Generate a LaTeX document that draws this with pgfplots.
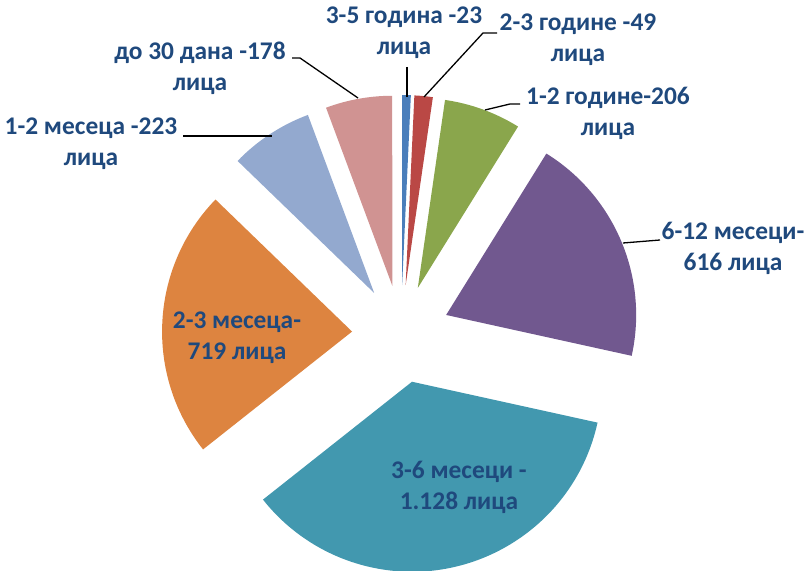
\documentclass[border=0pt]{standalone}
\usepackage{pgfplots}
\pgfplotsset{compat=1.18}
\usepackage{fontspec}
\setmainfont{Carlito}
\definecolor{sA}{HTML}{4A7EBB}
\definecolor{sB}{HTML}{BA4845}
\definecolor{sC}{HTML}{8AA64C}
\definecolor{sD}{HTML}{71588F}
\definecolor{sE}{HTML}{4298AF}
\definecolor{sF}{HTML}{DD8440}
\definecolor{sG}{HTML}{93A9CF}
\definecolor{sH}{HTML}{D09392}
\definecolor{txt}{HTML}{1F497D}
% value / colour of each slice, clockwise from the top
\newcommand\slices{23/sA,49/sB,206/sC,616/sD,1128/sE,719/sF,223/sG,178/sH}
\begin{document}
\begin{tikzpicture}
\begin{axis}[scale only axis, width=811bp, height=571bp,
  xmin=0, xmax=811, ymin=0, ymax=571, hide axis, clip=false]
\coordinate (bl) at (axis cs:0,0);
\coordinate (tr) at (axis cs:811,571);
\gdef\tot{0}
\foreach \v/\c in \slices {\pgfmathsetmacro{\t}{\tot+\v}\xdef\tot{\t}}
\gdef\cur{90}
\foreach \v/\c in \slices {
  \pgfmathsetmacro{\a}{\cur}
  \pgfmathsetmacro{\b}{\cur-\v/\tot*360}
  \pgfmathsetmacro{\m}{(\a+\b)/2}
  \pgfmathsetmacro{\cx}{401+49*cos(\m)}
  \pgfmathsetmacro{\cy}{237+49*sin(\m)}
  \edef\temp{\noexpand\fill[\c] (axis cs:\cx,\cy) -- ++(\a:190bp) arc[start angle=\a, end angle=\b, radius=190bp] -- cycle;}
  \temp
  \xdef\cur{\b}
}
% leader lines
\draw[black, line width=1.3pt] (axis cs:407,504) -- (axis cs:407,474);
\draw[black, line width=1.3pt] (axis cs:497,538) -- (axis cs:483,538) -- (axis cs:424,474);
\draw[black, line width=1.3pt] (axis cs:485,461) -- (axis cs:510,467) -- (axis cs:520,467);
\draw[black, line width=1.3pt] (axis cs:623,328) -- (axis cs:660,331);
\draw[black, line width=1.3pt] (axis cs:183,435) -- (axis cs:272,435);
\draw[black, line width=1.3pt] (axis cs:292,513) -- (axis cs:300,513) -- (axis cs:358,473);
% labels
\tikzset{lab/.style={text=txt, font=\bfseries\fontsize{25.5}{31}\selectfont, align=center, inner sep=0pt}}
\node[lab] at (axis cs:404,538) {3-5 година -23\\лица};
\node[lab] at (axis cs:578,531) {2-3 године -49\\лица};
\node[lab] at (axis cs:608,458) {1-2 године-206\\лица};
\node[lab] at (axis cs:733,323) {6-12 месеци-\\616 лица};
\node[lab] at (axis cs:459,84) {3-6 месеци -\\1.128 лица};
\node[lab] at (axis cs:237,233) {2-3 месеца-\\719 лица};
\node[lab] at (axis cs:91,427) {1-2 месеца -223\\лица};
\node[lab] at (axis cs:200,503) {до 30 дана -178\\лица};
\end{axis}
\pgfresetboundingbox
\path[use as bounding box] (bl) rectangle (tr);
\end{tikzpicture}
\end{document}
